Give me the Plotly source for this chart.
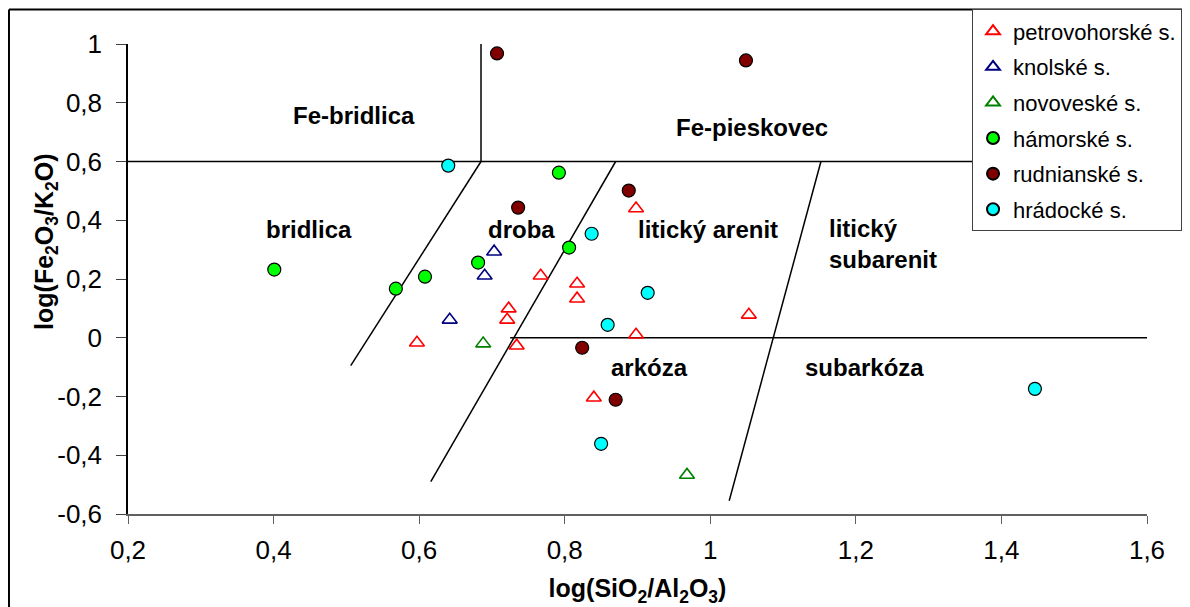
import plotly.graph_objects as go

# ---------------- data ----------------
petro_x = [0.597, 0.723, 0.721, 0.734, 0.767, 0.817, 0.817, 0.898, 0.898, 1.053, 0.840]
petro_y = [-0.017, 0.099, 0.061, -0.027, 0.211, 0.184, 0.133, 0.440, 0.010, 0.078, -0.204]

knol_x = [0.703, 0.690, 0.642]
knol_y = [0.293, 0.211, 0.061]

novo_x = [0.688, 0.968]
novo_y = [-0.020, -0.467]

hamor_x = [0.401, 0.568, 0.608, 0.681, 0.806, 0.792]
hamor_y = [0.232, 0.167, 0.208, 0.256, 0.307, 0.562]

rudn_x = [0.707, 1.049, 0.736, 0.888, 0.824, 0.870]
rudn_y = [0.968, 0.944, 0.443, 0.501, -0.034, -0.211]

hrad_x = [0.640, 0.837, 0.914, 0.859, 0.850, 1.446]
hrad_y = [0.586, 0.354, 0.153, 0.044, -0.361, -0.174]

series_names = ["petrovohorské s.", "knolské s.", "novoveské s.",
                "hámorské s.", "rudnianské s.", "hrádocké s."]

# classification boundary lines (x0, y0, x1, y1)
boundary_lines = [
    (0.2, 0.6, 1.6, 0.6),
    (0.685, 0.6, 0.685, 1.0),
    (0.685, 0.6, 0.506, -0.095),
    (0.870, 0.6, 0.616, -0.490),
    (1.152, 0.6, 1.026, -0.555),
    (0.725, 0.0, 1.6, 0.0),
]

# field labels
field_labels = ["Fe-bridlica", "Fe-pieskovec", "bridlica", "droba", "litický arenit",
                "litický<br>subarenit", "arkóza", "subarkóza"]
field_x = [0.511, 1.057, 0.449, 0.740, 0.997, 1.160, 0.916, 1.212]
field_y = [0.756, 0.716, 0.368, 0.368, 0.368, 0.319, -0.102, -0.102]
field_anchor = ["center", "center", "center", "center", "center", "left", "center", "center"]

x_ticks = [0.2, 0.4, 0.6, 0.8, 1.0, 1.2, 1.4, 1.6]
x_ticktext = ["0,2", "0,4", "0,6", "0,8", "1", "1,2", "1,4", "1,6"]
y_ticks = [-0.6, -0.4, -0.2, 0.0, 0.2, 0.4, 0.6, 0.8, 1.0]
y_ticktext = ["-0,6", "-0,4", "-0,2", "0", "0,2", "0,4", "0,6", "0,8", "1"]

FONT = "Liberation Sans, Arial, sans-serif"

fig = go.Figure()

tri = dict(symbol="triangle-up-open", size=13)
fig.add_trace(go.Scatter(x=petro_x, y=petro_y, mode="markers", name=series_names[0],
                         legendgroup="g1",
                         marker=dict(**tri, color="#FF0000", line=dict(width=1.6, color="#FF0000"))))
fig.add_trace(go.Scatter(x=knol_x, y=knol_y, mode="markers", name=series_names[1],
                         legendgroup="g2",
                         marker=dict(**tri, color="#000080", line=dict(width=1.6, color="#000080"))))
fig.add_trace(go.Scatter(x=novo_x, y=novo_y, mode="markers", name=series_names[2],
                         legendgroup="g3",
                         marker=dict(**tri, color="#008000", line=dict(width=1.6, color="#008000"))))
circ = dict(symbol="circle", size=13, line=dict(width=1.2, color="black"))
fig.add_trace(go.Scatter(x=hamor_x, y=hamor_y, mode="markers", name=series_names[3],
                         legendgroup="g4", marker=dict(**circ, color="#00FF00")))
fig.add_trace(go.Scatter(x=rudn_x, y=rudn_y, mode="markers", name=series_names[4],
                         legendgroup="g5", marker=dict(**circ, color="#800000")))
fig.add_trace(go.Scatter(x=hrad_x, y=hrad_y, mode="markers", name=series_names[5],
                         legendgroup="g6", marker=dict(**circ, color="#00FFFF")))

shapes = []
for (x0, y0, x1, y1) in boundary_lines:
    shapes.append(dict(type="line", xref="x", yref="y", x0=x0, y0=y0, x1=x1, y1=y1,
                       line=dict(color="black", width=1.5), layer="below"))
# outer chart border (top and left edges visible in the frame)
TOP = 1.0735
LEFT = -0.1168
shapes.append(dict(type="line", xref="paper", yref="paper",
                   x0=LEFT, y0=TOP, x1=1.1, y1=TOP,
                   line=dict(color="black", width=2), layer="above"))
shapes.append(dict(type="line", xref="paper", yref="paper",
                   x0=LEFT, y0=TOP, x1=LEFT, y1=-0.25,
                   line=dict(color="black", width=2), layer="above"))

annotations = []
for t, x, y, a in zip(field_labels, field_x, field_y, field_anchor):
    annotations.append(dict(text="<b>%s</b>" % t, x=x, y=y, xref="x", yref="y",
                            xanchor=a, yanchor="middle", showarrow=False, align="left",
                            font=dict(family=FONT, size=24, color="black")))
annotations.append(dict(text="<b>log(Fe<sub>2</sub>O<sub>3</sub>/K<sub>2</sub>O)</b>",
                        x=-0.08, y=0.58, xref="paper", yref="paper", textangle=-90,
                        xanchor="center", yanchor="middle", showarrow=False,
                        font=dict(family=FONT, size=25, color="black")))

# the page body adds an 8px offset; margins below compensate for it
fig.update_layout(
    width=1190, height=607, autosize=False,
    margin=dict(l=120, r=51, t=36, b=101, autoexpand=False),
    paper_bgcolor="white", plot_bgcolor="white",
    font=dict(family=FONT, color="black"),
    shapes=shapes, annotations=annotations,
    showlegend=True,
    legend=dict(x=0.8283, y=TOP, xanchor="left", yanchor="top",
                bgcolor="white", bordercolor="#404040", borderwidth=1,
                font=dict(family=FONT, size=22, color="black"),
                traceorder="grouped", tracegroupgap=4, itemsizing="constant"),
    xaxis=dict(range=[0.2, 1.6], tickvals=x_ticks, ticktext=x_ticktext,
               showgrid=False, zeroline=False, showline=True, linecolor="#606060",
               linewidth=1.5, ticks="outside", ticklen=8, tickcolor="#606060",
               ticklabelstandoff=4, automargin=False,
               tickfont=dict(family=FONT, size=26, color="black"),
               title=dict(text="<b>log(SiO<sub>2</sub>/Al<sub>2</sub>O<sub>3</sub>)</b>",
                          font=dict(family=FONT, size=25, color="black"), standoff=16)),
    yaxis=dict(range=[-0.6, 1.0], tickvals=y_ticks, ticktext=y_ticktext,
               showgrid=False, zeroline=False, showline=True, linecolor="black",
               linewidth=1.5, ticks="outside", ticklen=10, tickcolor="#404040",
               ticklabelstandoff=9, automargin=False,
               tickfont=dict(family=FONT, size=26, color="black")),
)

fig.write_html("out.html")
